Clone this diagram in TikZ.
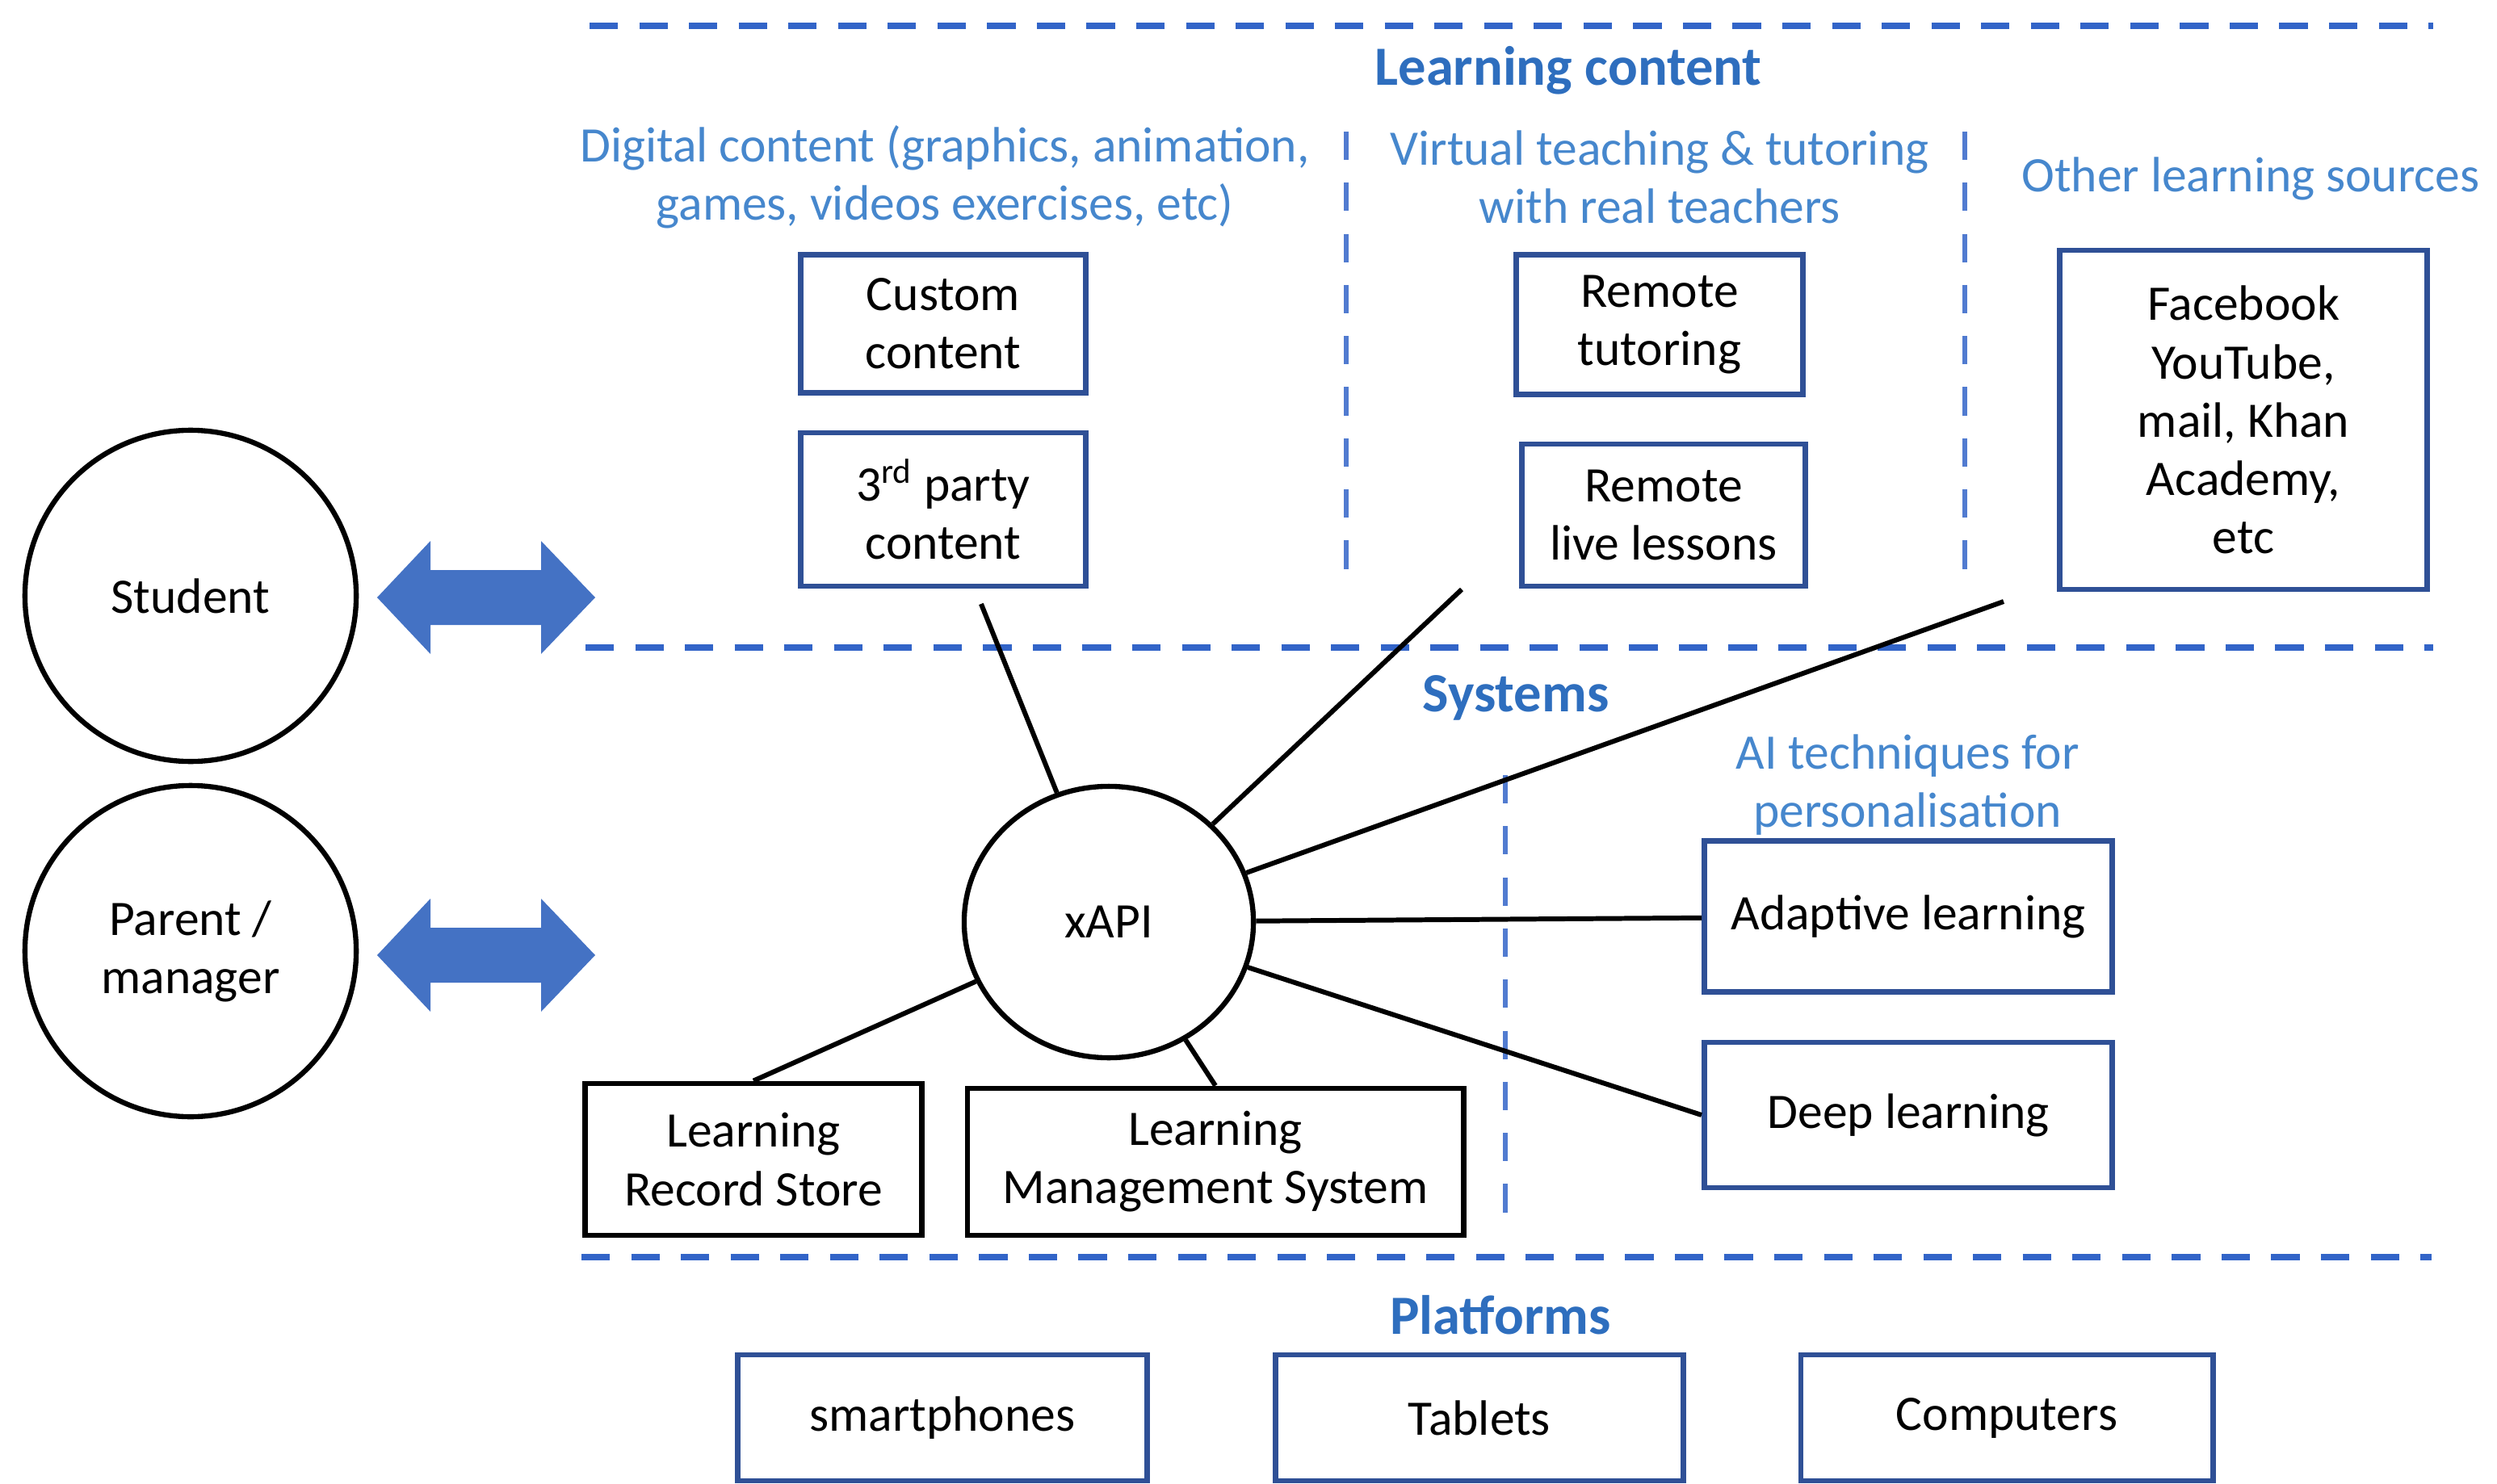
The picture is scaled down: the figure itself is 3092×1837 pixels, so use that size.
\documentclass[tikz,border=0pt]{standalone}
\usepackage{fontspec}
\setmainfont{Carlito}
\usetikzlibrary{shapes.geometric}

\definecolor{headblue}{RGB}{46,110,190}
\definecolor{subblue}{RGB}{70,135,205}
\definecolor{boxblue}{RGB}{47,80,150}
\definecolor{dashblue}{RGB}{50,100,200}
\definecolor{arrowblue}{RGB}{68,114,196}

\begin{document}
\begin{tikzpicture}[x=0.01cm,y=-0.01cm,
      txt/.style={font=\fontsize{17.5}{20.5}\selectfont},
      heading/.style={text=headblue,font=\fontsize{19.5}{23}\selectfont\bfseries},
      subhead/.style={text=subblue,align=center,font=\fontsize{17.5}{20.5}\selectfont},
      bluebox/.style={draw=boxblue,line width=1.9pt,align=center,txt,inner sep=0pt},
      blackbox/.style={draw=black,line width=1.9pt,align=center,txt,inner sep=0pt},
      actor/.style={circle,draw,line width=1.8pt,minimum size=4.1cm,align=center,txt},
      sepline/.style={dashblue,line width=2.4pt,dash pattern=on 10pt off 7.5pt},
      colline/.style={dashblue!85,line width=1.9pt,dash pattern=on 10pt off 8pt},
      link/.style={line width=1.7pt}]
            \useasboundingbox (0,0) rectangle (3092,1837);

            % section borders
            \draw [sepline] (730,32) -- (3013,32);
            \draw [sepline] (725,802) -- (3013,802);
            \draw [sepline] (720,1557) -- (3011,1557);
            \draw [colline] (1667,163) -- (1667,707);
            \draw [colline] (2433,163) -- (2433,712);
            \draw [colline] (1864,960) -- (1864,1518);

            % headings
            \node [heading] (hcontent) at (1942,87) {Learning content};
            \node [heading] (hsystems) at (1877,864) {Systems};
            \node [heading] (hplatforms) at (1858,1629) {Platforms};
            \node [subhead] (hdigital) at (1170,219)
               {Digital content (graphics, animation,\\games, videos exercises, etc)};
            \node [subhead] (hvirtual) at (2055,219)
               {Virtual teaching \& tutoring\\with real teachers};
            \node [subhead] (hother) at (2787,221) {Other learning sources};
            \node [subhead] (hai) at (2362,972) {AI techniques for\\personalisation};

            % learning content
            \node [bluebox,minimum width=3.53cm,minimum height=1.71cm]
               (custom) at (1168,401) {Custom\\content};
            \node [bluebox,minimum width=3.53cm,minimum height=1.90cm]
               (third) at (1168,631) {3\textsuperscript{rd} party\\content};
            \node [bluebox,minimum width=3.55cm,minimum height=1.73cm]
               (tutor) at (2055,402) {Remote\\tutoring};
            \node [bluebox,minimum width=3.51cm,minimum height=1.76cm]
               (live) at (2060,638) {Remote\\live lessons};
            \node [bluebox,minimum width=4.55cm,minimum height=4.20cm]
               (other) at (2778,520) {Facebook\\YouTube,\\mail, Khan\\Academy,\\etc};

            % users
            \node [actor] (student) at (236,738) {Student};
            \node [actor] (parent) at (236,1178) {Parent /\\manager};
            \foreach \y in {740,1183}
               \fill [arrowblue] (467,\y) -- (533,\y-70) -- (533,\y-34) -- (670,\y-34)
                  -- (670,\y-70) -- (737,\y) -- (670,\y+70) -- (670,\y+34)
                  -- (533,\y+34) -- (533,\y+70) -- cycle;

            % systems
            \node [ellipse,draw,line width=1.8pt,minimum width=3.58cm,minimum height=3.36cm,txt]
               (xapi) at (1373,1142) {xAPI};
            \node [blackbox,minimum width=4.17cm,minimum height=1.88cm]
               (lrs) at (933,1436) {Learning\\Record Store};
            \node [blackbox,minimum width=6.14cm,minimum height=1.82cm]
               (lms) at (1505,1439) {Learning\\Management System};
            \node [bluebox,minimum width=5.05cm,minimum height=1.87cm]
               (adaptive) at (2363,1135) {Adaptive learning};
            \node [bluebox,minimum width=5.05cm,minimum height=1.80cm]
               (deep) at (2363,1381) {Deep learning};

            % platforms
            \node [bluebox,minimum width=5.07cm,minimum height=1.56cm]
               (phones) at (1167,1756) {smartphones};
            \node [bluebox,minimum width=5.05cm,minimum height=1.56cm]
               (tablets) at (1832,1756) {Tablets};
            \node [bluebox,minimum width=5.10cm,minimum height=1.56cm]
               (computers) at (2485,1756) {Computers};

            % xAPI links
            \coordinate (virt) at (1810,730);
            \coordinate (srcs) at (2481,745);
            \draw [link,shorten <=0.2cm] (third) -- (xapi);
            \draw [link] (xapi) -- (virt);
            \draw [link] (xapi) -- (srcs);
            \draw [link] (xapi) -- (adaptive);
            \draw [link] (xapi) -- (deep.west);
            \draw [link] (xapi) -- (lrs.north);
            \draw [link] (xapi) -- (lms.north);
         \end{tikzpicture}
\end{document}
